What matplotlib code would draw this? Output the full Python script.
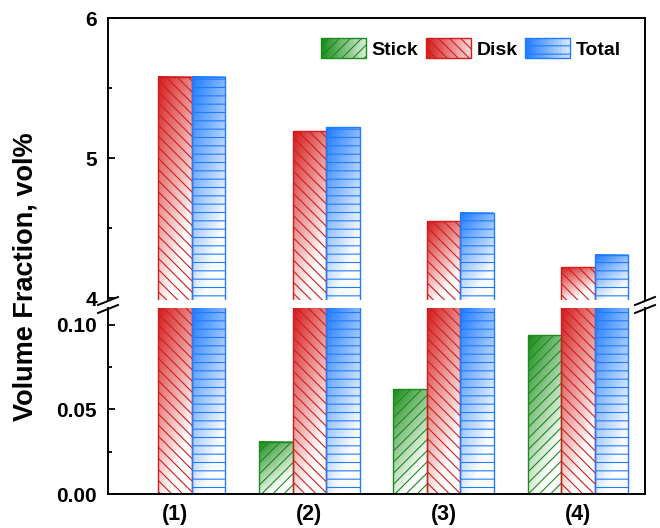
import numpy as np
import matplotlib
matplotlib.use("Agg")
import matplotlib.pyplot as plt
from matplotlib.colors import to_rgb
from matplotlib.patches import Rectangle
from matplotlib.lines import Line2D
from matplotlib.legend_handler import HandlerBase

plt.rcParams['font.family'] = ['Liberation Sans', 'DejaVu Sans']
plt.rcParams['font.weight'] = 'bold'
plt.rcParams['hatch.linewidth'] = 0.8

# Data
groups = ['(1)', '(2)', '(3)', '(4)']
stick = [0.0, 0.031, 0.062, 0.094]
disk = [5.58, 5.19, 4.55, 4.22]
total = [5.58, 5.22, 4.61, 4.31]

series = [('Stick', stick, '#1a8c1a', '///'),
          ('Disk', disk, '#d41c1c', '\\\\\\'),
          ('Total', total, '#1f7cff', '--')]

W, H = 660, 528
fig = plt.figure(figsize=(W / 100, H / 100), dpi=100)
L, R = 108, 645
ax_top = fig.add_axes([L / W, 1 - 300 / H, (R - L) / W, (300 - 18) / H])
ax_bot = fig.add_axes([L / W, 1 - 494 / H, (R - L) / W, (494 - 308) / H])

ylims = {ax_top: (3.986, 6.0), ax_bot: (0.0, 0.110)}
x = np.arange(1, len(groups) + 1)
width = 0.25


def gradient_fill(ax, x0, x1, y0, y1, color):
    base = np.array(to_rgb(color))
    v = np.linspace(0, 1, 80)[:, None]
    h = np.linspace(0, 1, 20)[None, :]
    f = np.clip(0.85 * v + 0.45 * h, 0, 1)[..., None]
    img = base * (1 - f) + f
    ax.imshow(img, extent=(x0, x1, y0, y1), origin='upper', aspect='auto',
              interpolation='bilinear', zorder=1)


for ax in (ax_top, ax_bot):
    lo, hi = ylims[ax]
    for k, (name, vals, color, hatch) in enumerate(series):
        xs = x + (k - 1) * width
        for xi, val in zip(xs, vals):
            if val <= lo:
                continue
            top = min(val, hi)
            gradient_fill(ax, xi - width / 2, xi + width / 2, lo, top, color)
        ax.bar(xs, vals, width, facecolor='none', edgecolor=color, hatch=hatch,
               lw=1, zorder=2)
    ax.set_xlim(0.5, 4.5)
    ax.set_ylim(lo, hi)
    for s in ax.spines.values():
        s.set_linewidth(1.4)
    ax.tick_params(axis='y', which='both', direction='in', right=False,
                   labelsize=15, width=1.3, pad=8)
    ax.tick_params(axis='y', which='major', length=5)
    ax.tick_params(axis='y', which='minor', length=3)

ax_top.spines['bottom'].set_visible(False)
ax_bot.spines['top'].set_visible(False)
ax_top.set_yticks([4, 5, 6])
ax_top.set_yticks([4.5, 5.5], minor=True)
ax_top.set_yticklabels(['4', '5', '6'])
ax_top.set_xticks([])
ax_bot.set_yticks([0.0, 0.05, 0.10])
ax_bot.set_yticks([0.025, 0.075], minor=True)
ax_bot.set_yticklabels(['0.00', '0.05', '0.10'])
ax_bot.set_xticks(x)
ax_bot.set_xticklabels(groups)
ax_bot.tick_params(axis='x', length=0, pad=7, labelsize=15.5)

# axis break marks
for px in (L, R):
    for py in (305, 313):
        fig.add_artist(Line2D([(px - 10) / W, (px + 10) / W],
                              [1 - py / H, 1 - (py - 8) / H],
                              color='black', lw=1.4))


class GradientHandler(HandlerBase):
    def create_artists(self, legend, orig_handle, xdescent, ydescent,
                       width, height, fontsize, trans):
        color = orig_handle.get_edgecolor()
        base = np.array(color[:3])
        arts = []
        n = 24
        for i in range(n):
            f = 0.85 * i / n
            arts.append(Rectangle((-xdescent + width * i / n, -ydescent),
                                  width / n * 1.05, height,
                                  facecolor=base * (1 - f) + f,
                                  edgecolor='none', transform=trans))
        arts.append(Rectangle((-xdescent, -ydescent), width, height,
                              facecolor='none', edgecolor=color, lw=1,
                              hatch=orig_handle.get_hatch(), transform=trans))
        return arts


handles = [Rectangle((0, 0), 1, 1, facecolor='none', edgecolor=c, hatch=h)
           for _, _, c, h in series]
ax_top.legend(handles, [s[0] for s in series], loc='upper right',
              bbox_to_anchor=(0.955, 0.929), ncol=3, frameon=False,
              borderpad=0, borderaxespad=0, handlelength=2.3, handleheight=1.2,
              handletextpad=0.3, columnspacing=0.4, fontsize=14,
              handler_map={Rectangle: GradientHandler()})

fig.text(26 / W, 1 - 277 / H, 'Volume Fraction, vol%', rotation=90,
         ha='center', va='center', fontsize=19.5, fontweight='bold')

fig.savefig('out.png', dpi=100)
